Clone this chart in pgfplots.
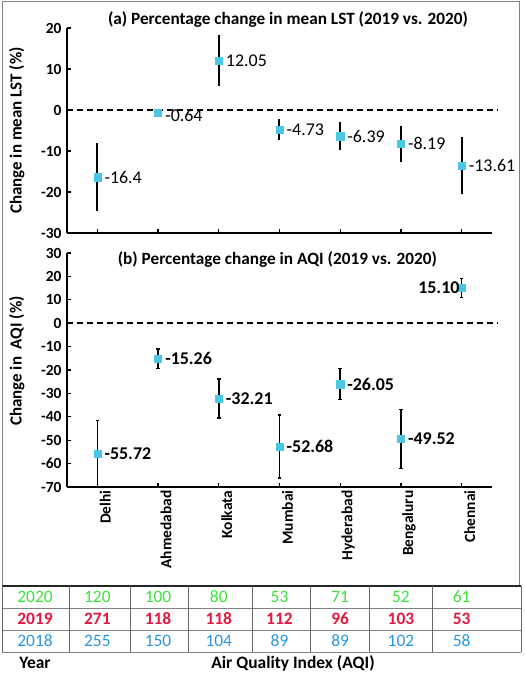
\documentclass[border=0pt]{standalone}
\usepackage{fontspec}
\setmainfont{Carlito}
\usepackage{pgfplots}
\pgfplotsset{compat=1.18}
\usepackage{pgfplotstable}

\definecolor{mk}{RGB}{72,200,228}
\definecolor{g20}{RGB}{60,225,60}
\definecolor{r19}{RGB}{225,25,65}
\definecolor{b18}{RGB}{40,150,225}
\definecolor{fr}{RGB}{130,130,130}

% panel (a): percentage change in mean LST
\pgfplotstableread{
x y e lab
0 -16.4 8.3 -16.4
2 12.05 6.2 12.05
3 -4.73 2.6 -4.73
4 -6.39 3.4 -6.39
5 -8.19 4.4 -8.19
6 -13.61 7.0 -13.61
}\lsttab
\pgfplotstableread{
x y e lab
1 -0.64 0 -0.64
}\lsttabb

% panel (b): percentage change in AQI
\pgfplotstableread{
x y e lab
0 -55.72 14.0 -55.72
1 -15.26 4.2 -15.26
2 -32.21 8.3 -32.21
3 -52.68 13.5 -52.68
4 -26.05 6.7 -26.05
5 -49.52 12.6 -49.52
}\aqitab
\pgfplotstableread{
x y e lab
6 15.10 4.0 15.10
}\aqitabb

\pgfplotsset{
  myax/.style={
    scale only axis, anchor=south west,
    width=425bp,
    xmin=-0.5, xmax=6.5,
    xtick={0,...,6},
    axis lines*=left,
    axis line style={-, line width=1.4bp, black},
    tick style={black, line width=1.2bp},
    major tick length=4bp,
    tick align=inside,
    clip=false,
    /pgf/number format/assume math mode=true,
    yticklabel style={font=\fontsize{15.5}{16}\selectfont\bfseries, xshift=-2bp},
    ylabel style={font=\fontsize{17}{18}\selectfont\bfseries, anchor=center},
  },
  mypts/.style={
    only marks, mark=square*, mark size=3.6bp,
    mark options={fill=mk, draw=mk},
    point meta=explicit symbolic,
    nodes near coords,
    every node near coord/.append style={anchor=west, inner sep=1bp, xshift=6bp},
  },
}

\begin{document}
\begin{tikzpicture}
\useasboundingbox (0,0) rectangle (525bp,673bp);
% outer frame
\draw[fr, line width=1bp] (2bp,87bp) -- (2bp,671bp) -- (519bp,671bp) -- (519bp,87bp);

% ---------- panel (a)
\begin{axis}[myax, at={(67bp,440bp)}, height=205bp,
  ymin=-30, ymax=20, ytick={-30,-20,...,20},
  xticklabels={},
  ylabel={Change in mean LST (\%)},
  ylabel style={at={(axis description cs:-0.118,0.5)}},
]
\draw[black, line width=1.4bp, dash pattern=on 6bp off 4bp] (axis cs:-0.5,0) -- (axis cs:6.6,0);
\node[font=\fontsize{17.3}{18}\selectfont\bfseries] at (axis description cs:0.52,1.04) {(a) Percentage change in mean LST (2019 vs. 2020)};
\addplot[mypts,
  nodes near coords style={font=\fontsize{18}{18}\selectfont},
  error bars/.cd, y dir=both, y explicit,
  error bar style={line width=2bp, black}, error mark=none]
  table[x=x, y=y, y error=e, meta=lab] {\lsttab};
\addplot[mypts,
  nodes near coords style={font=\fontsize{18}{18}\selectfont, anchor=north west, yshift=4bp}]
  table[x=x, y=y, meta=lab] {\lsttabb};
\end{axis}

% ---------- panel (b)
\begin{axis}[myax, at={(67bp,186bp)}, height=234bp,
  ymin=-70, ymax=30, ytick={-70,-60,...,30},
  xticklabels={Delhi,Ahmedabad,Kolkata,Mumbai,Hyderabad,Bengaluru,Chennai},
  xticklabel style={rotate=90, anchor=east, font=\fontsize{15.5}{16}\selectfont\bfseries, yshift=-8bp},
  ylabel={Change in\ \ AQI (\%)},
  ylabel style={at={(axis description cs:-0.118,0.538)}},
]
\draw[black, line width=1.4bp, dash pattern=on 6bp off 4bp] (axis cs:-0.5,0) -- (axis cs:6.6,0);
\node[font=\fontsize{17.3}{18}\selectfont\bfseries] at (axis description cs:0.495,0.97) {(b) Percentage change in AQI (2019 vs. 2020)};
\addplot[mypts,
  nodes near coords style={font=\fontsize{18}{18}\selectfont\bfseries},
  error bars/.cd, y dir=both, y explicit,
  error bar style={line width=1.5bp, black},
  error mark options={rotate=90, mark size=1.8bp, line width=1.3bp, black}]
  table[x=x, y=y, y error=e, meta=lab] {\aqitab};
\addplot[mypts,
  nodes near coords style={font=\fontsize{18}{18}\selectfont\bfseries, anchor=east, xshift=-7bp},
  error bars/.cd, y dir=both, y explicit,
  error bar style={line width=1.5bp, black},
  error mark options={rotate=90, mark size=1.8bp, line width=1.3bp, black}]
  table[x=x, y=y, y error=e, meta=lab] {\aqitabb};
\end{axis}

% ---------- AQI table
\draw[black!85, line width=1.6bp] (2bp,87bp) -- (521bp,87bp);
\foreach \yy in {65,43,21} \draw[fr, line width=0.9bp] (2bp,\yy bp) -- (521bp,\yy bp);
\foreach \xx in {2,69,130,188,252,310,369,432,521} \draw[fr!80!black, line width=0.9bp] (\xx bp,87bp) -- (\xx bp,21bp);
\def\tf{\fontsize{17.5}{18}\selectfont}
\node[g20, font=\tf] at (35bp,76bp) {2020};
\node[r19, font=\tf\bfseries] at (35bp,54bp) {2019};
\node[b18, font=\tf] at (35bp,32bp) {2018};
\foreach \v [count=\i from 0] in {120,100,80,53,71,52,61}
  \node[g20, font=\tf] at ({(67+(\i+0.5)*60.714)*1bp},76bp) {\v};
\foreach \v [count=\i from 0] in {271,118,118,112,96,103,53}
  \node[r19, font=\tf\bfseries] at ({(67+(\i+0.5)*60.714)*1bp},54bp) {\v};
\foreach \v [count=\i from 0] in {255,150,104,89,89,102,58}
  \node[b18, font=\tf] at ({(67+(\i+0.5)*60.714)*1bp},32bp) {\v};
\node[font=\tf\bfseries, inner sep=0pt] at (35bp,10bp) {Year};
\node[font=\tf\bfseries, inner sep=0pt] at (293bp,10bp) {Air Quality Index (AQI)};
\end{tikzpicture}
\end{document}
